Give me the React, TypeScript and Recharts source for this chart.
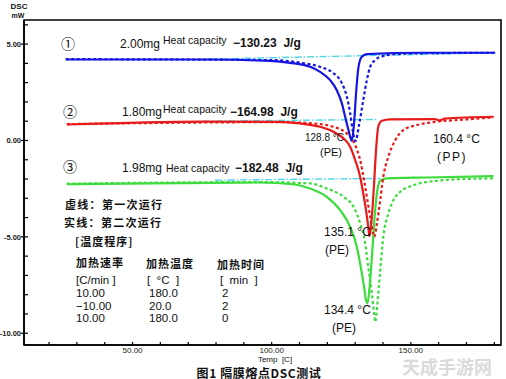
import { LineChart, Line, XAxis, YAxis, ReferenceArea } from "recharts";

type Pt = [number, number];

// frame range: temperature (°C) and DSC heat flow (mW)
const tempDomain: [number, number] = [11, 182.4];
const flowDomain: [number, number] = [-10.61, 6.25];
const tempTicks = [20, 30, 40, 50, 60, 70, 80, 90, 100, 110, 120, 130, 140, 150, 160, 170, 180];
const tempLabels = [50, 100, 150];
const flowTicks = [-10, -9, -8, -7, -6, -5, -4, -3, -2, -1, 0, 1, 2, 3, 4, 5, 6];
const flowLabels = [-10, -5, 0, 5];

// ① 2.00mg  (second run = solid, first run = dotted)
const s1Second: Pt[] = [
  [26.0, 4.2], [50, 4.2], [74.2, 4.2], [99.4, 4.13], [106.6, 4.03], [113.8, 3.82], [117.4, 3.56],
  [121.0, 3.13], [123.4, 2.61], [125.2, 1.94], [126.4, 1.23], [127.6, 0.54], [128.8, -0.02],
  [129.6, 0.9], [130.4, 2.61], [131.2, 3.82], [132.4, 4.34], [134.2, 4.48], [153.3, 4.55], [180.3, 4.55],
];
const s1First: Pt[] = [
  [26.0, 4.22], [99.4, 4.17], [111.3, 4.01], [117.4, 3.82], [122.1, 3.5], [125.2, 2.98], [127.0, 2.27],
  [128.2, 1.42], [129.1, 0.54], [130.1, -0.03], [131.5, 0.9], [132.9, 2.09], [134.2, 3.13], [135.4, 3.82],
  [137.2, 4.17], [140.0, 4.38], [145.0, 4.48], [153.3, 4.52], [180.3, 4.55],
];
const s1Base: Pt[] = [[76.8, 4.22], [180.3, 4.55]];

// ② 1.80mg
const s2Second: Pt[] = [
  [26.4, 0.83], [75.3, 0.98], [103.0, 0.97], [110.2, 0.885], [117.4, 0.71], [122.2, 0.45], [125.8, 0.11],
  [128.2, -0.33], [130.0, -1.02], [131.8, -1.89], [132.9, -2.75], [133.9, -3.61], [134.7, -4.48],
  [135.1, -4.96], [136.0, -3.96], [136.8, -2.23], [137.5, -0.5], [138.3, 0.71], [139.6, 1.02],
  [142.6, 1.09], [158.6, 1.11], [160.4, 1.04], [162.2, 1.13], [179.7, 1.23],
];
const s2First: Pt[] = [
  [26.4, 0.85], [103.0, 0.95], [114.9, 0.885], [122.1, 0.71], [127.0, 0.37], [130.0, -0.24],
  [131.8, -1.02], [133.2, -2.06], [134.4, -3.1], [135.6, -4.13], [136.5, -4.82], [136.9, -5.0],
  [137.8, -4.31], [139.0, -3.1], [140.1, -1.89], [141.9, -0.85], [144.4, 0.02], [147.3, 0.54],
  [152.2, 0.8], [158.1, 0.955], [170.1, 1.09], [179.7, 1.2],
];
const s2Base: Pt[] = [[75.4, 1.0], [137.8, 1.09]];

// ③ 1.98mg
const s3Second: Pt[] = [
  [26.4, -2.27], [56.2, -2.23], [95.8, -2.18], [107.8, -2.27], [113.8, -2.49], [119.8, -2.92],
  [124.6, -3.61], [128.2, -4.48], [130.6, -5.52], [132.0, -6.56], [133.2, -7.59], [133.9, -8.28],
  [134.4, -8.45], [135.2, -7.59], [136.1, -5.86], [136.9, -4.13], [137.8, -2.75], [139.0, -2.09],
  [141.4, -1.97], [155.8, -1.92], [179.7, -1.85],
];
const s3First: Pt[] = [
  [26.4, -2.24], [95.8, -2.16], [113.8, -2.23], [119.8, -2.49], [125.8, -2.92], [129.4, -3.44],
  [131.8, -4.3], [133.6, -5.34], [134.7, -6.56], [136.0, -7.94], [136.8, -8.98], [137.2, -9.41],
  [138.0, -8.46], [139.0, -6.73], [140.1, -5.0], [141.9, -3.79], [143.7, -3.1], [146.2, -2.66],
  [150.9, -2.32], [158.1, -2.11], [167.7, -2.01], [179.7, -1.97],
];
const s3Base: Pt[] = [[79.7, -2.06], [139.0, -1.97]];

const BLUE = "#1616e0";
const RED = "#e81a1a";
const GREEN = "#3ddc3d";
const CYAN = "#4fd6e8";

const series = [
  { id: "s1b", pts: s1Base, color: CYAN, dash: "7 2 1.5 2", w: 1.4 },
  { id: "s2b", pts: s2Base, color: CYAN, dash: "7 2 1.5 2", w: 1.4 },
  { id: "s3b", pts: s3Base, color: CYAN, dash: "7 2 1.5 2", w: 1.4 },
  { id: "s3f", pts: s3First, color: GREEN, dash: "3 2.5", w: 2.2 },
  { id: "s3s", pts: s3Second, color: GREEN, dash: undefined, w: 2.2 },
  { id: "s2f", pts: s2First, color: RED, dash: "3 2.5", w: 2.2 },
  { id: "s2s", pts: s2Second, color: RED, dash: undefined, w: 2.2 },
  { id: "s1f", pts: s1First, color: BLUE, dash: "3 2.5", w: 2.2 },
  { id: "s1s", pts: s1Second, color: BLUE, dash: undefined, w: 2.2 },
];

const rows = (pts: Pt[]) => pts.map(([t, v]) => ({ t, v }));

const FONT = "'Liberation Sans', Arial, 'Noto Sans CJK SC', sans-serif";
const CJK = "'Noto Sans CJK SC', sans-serif";

function TempTick({ x, y, payload }: any) {
  const major = tempLabels.includes(payload.value);
  return (
    <g>
      <line x1={x} y1={y} x2={x} y2={y - 3} stroke="#000" strokeWidth={1.2} />
      {major && (
        <text x={x} y={y + 7.5} textAnchor="middle" fontSize={8} fill="#222">
          {payload.value.toFixed(2)}
        </text>
      )}
    </g>
  );
}

function FlowTick({ x, y, payload }: any) {
  const major = flowLabels.includes(payload.value);
  return (
    <g>
      <line x1={major ? x - 3 : x} y1={y} x2={x + 4} y2={y} stroke="#000" strokeWidth={1.2} />
      {major && (
        <text x={x - 3} y={y + 2.8} textAnchor="end" fontSize={7.5} fontWeight="bold" fill="#222">
          {payload.value.toFixed(2)}
        </text>
      )}
    </g>
  );
}

// text labels drawn over the plot
type Note = { s: string; x: number; y: number; f: number; b?: boolean; a?: "start" | "middle" | "end"; cjk?: boolean; ls?: number };
const notes: Note[] = [
  { s: "DSC", x: 19, y: 6, f: 8, b: true, a: "middle" },
  { s: "mW", x: 18, y: 15, f: 7, b: true, a: "middle" },
  { s: "①", x: 68, y: 43, f: 14, a: "middle", cjk: true },
  { s: "②", x: 70, y: 110.5, f: 14, a: "middle", cjk: true },
  { s: "③", x: 70, y: 165.5, f: 14, a: "middle", cjk: true },
  { s: "2.00mg", x: 120, y: 44, f: 12 },
  { s: "Heat capacity", x: 163, y: 40, f: 10.5 },
  { s: "−130.23  J/g", x: 233, y: 43, f: 12, b: true },
  { s: "1.80mg", x: 122, y: 112, f: 12 },
  { s: "Heat capacity", x: 163, y: 109, f: 10.5 },
  { s: "−164.98  J/g", x: 230, y: 112, f: 12, b: true },
  { s: "1.98mg", x: 122, y: 168, f: 12 },
  { s: "Heat capacity", x: 166, y: 168, f: 10.5 },
  { s: "−182.48  J/g", x: 235, y: 168, f: 12, b: true },
  { s: "128.8 °C", x: 305, y: 137, f: 10 },
  { s: "(PE)", x: 320, y: 152, f: 11 },
  { s: "160.4 °C", x: 433, y: 139, f: 12 },
  { s: "(PP)", x: 452, y: 156.5, f: 12, a: "middle", ls: 1.5 },
  { s: "135.1 °C", x: 324, y: 232, f: 12 },
  { s: "(PE)", x: 325, y: 250, f: 12 },
  { s: "134.4 °C", x: 324, y: 310, f: 12 },
  { s: "(PE)", x: 332, y: 328, f: 12 },
  { s: "虚线：第一次运行", x: 65, y: 204, f: 11, b: true, cjk: true, ls: 1.3 },
  { s: "实线：第二次运行", x: 64, y: 222, f: 11, b: true, cjk: true, ls: 1.3 },
  { s: "[温度程序]", x: 75, y: 241, f: 11, b: true, cjk: true, ls: 1 },
  { s: "加热速率", x: 76, y: 262, f: 11, b: true, cjk: true, ls: 1 },
  { s: "加热温度", x: 146, y: 263, f: 11, b: true, cjk: true, ls: 1 },
  { s: "加热时间", x: 217, y: 264, f: 11, b: true, cjk: true, ls: 1 },
  { s: "[C/min ]", x: 76, y: 280, f: 11.5 },
  { s: "[  °C  ]", x: 147, y: 280, f: 11.5 },
  { s: "[  min  ]", x: 220, y: 280, f: 11.5 },
  { s: "10.00", x: 76, y: 292.5, f: 11.5 },
  { s: "180.0", x: 149, y: 292.5, f: 11.5 },
  { s: "2", x: 222, y: 292.5, f: 11.5 },
  { s: "−10.00", x: 76, y: 305.5, f: 11.5 },
  { s: "20.0", x: 149, y: 305.5, f: 11.5 },
  { s: "2", x: 222, y: 305.5, f: 11.5 },
  { s: "10.00", x: 76, y: 318, f: 11.5 },
  { s: "180.0", x: 149, y: 318, f: 11.5 },
  { s: "0", x: 222, y: 318, f: 11.5 },
  { s: "Temp  [C]", x: 275, y: 359.5, f: 8, a: "middle" },
  { s: "图1 隔膜熔点DSC测试", x: 259, y: 372, f: 12, b: true, a: "middle", cjk: true, ls: 0.6 },
];

export default function App() {
  return (
    <div style={{ position: "absolute", left: 0, top: 0, width: 506, height: 379, background: "#fff", fontFamily: FONT }}>
      <LineChart width={506} height={379} margin={{ top: 20, right: 5, bottom: 0, left: 0 }}>
        <XAxis
          type="number"
          dataKey="t"
          domain={tempDomain}
          allowDataOverflow
          ticks={tempTicks}
          interval={0}
          tickSize={0}
          tickMargin={0}
          tickLine={false}
          tick={TempTick}
          height={34}
          axisLine={{ stroke: "#000", strokeWidth: 1.6 }}
        />
        <YAxis
          type="number"
          dataKey="v"
          domain={flowDomain}
          allowDataOverflow
          ticks={flowTicks}
          interval={0}
          tickSize={0}
          tickMargin={0}
          tickLine={false}
          tick={FlowTick}
          width={24}
          axisLine={{ stroke: "#000", strokeWidth: 1.6 }}
        />
        <ReferenceArea
          x1={tempDomain[0]}
          x2={tempDomain[1]}
          y1={flowDomain[0]}
          y2={flowDomain[1]}
          fill="none"
          fillOpacity={0}
          stroke="#000"
          strokeWidth={1.6}
        />
        {series.map((s) => (
          <Line
            key={s.id}
            data={rows(s.pts)}
            dataKey="v"
            type="monotone"
            stroke={s.color}
            strokeWidth={s.w}
            strokeDasharray={s.dash}
            dot={false}
            activeDot={false}
            isAnimationActive={false}
          />
        ))}
      </LineChart>
      <svg width={506} height={379} style={{ position: "absolute", left: 0, top: 0, pointerEvents: "none" }}>
        {notes.map((n, i) => (
          <text
            key={i}
            x={n.x}
            y={n.y}
            fontSize={n.f}
            fontWeight={n.b ? "bold" : "normal"}
            textAnchor={n.a ?? "start"}
            dominantBaseline="central"
            fontFamily={n.cjk ? CJK : FONT}
            letterSpacing={n.ls ?? 0}
            fill="#111"
            style={{ whiteSpace: "pre" }}
          >
            {n.s}
          </text>
        ))}
        <text x={447} y={365.5} fontSize={18} fontWeight="bold" textAnchor="middle" dominantBaseline="central" fontFamily={CJK} fill="#d0d0d0" fillOpacity={0.8}>
          天成手游网
        </text>
      </svg>
    </div>
  );
}
